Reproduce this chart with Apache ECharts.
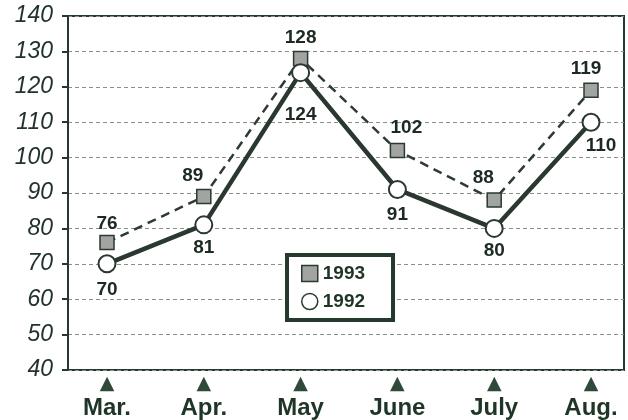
<!DOCTYPE html>
<html><head><meta charset="utf-8">
<script src="https://cdn.jsdelivr.net/npm/echarts@6/dist/echarts.min.js"></script>
<style>html,body{margin:0;padding:0;background:#fff}#c{width:628px;height:420px}</style>
</head><body><div id="c"></div>
<script>
const months = ['Mar.', 'Apr.', 'May', 'June', 'July', 'Aug.'];
const values1993 = [76, 89, 128, 102, 88, 119];
const values1992 = [70, 81, 124, 91, 80, 110];
const yTicks = [40, 50, 60, 70, 80, 90, 100, 110, 120, 130, 140];

// label offsets (style only)
const off1993 = [[0,-19],[-11,-21],[0,-21],[9,-23],[-11,-22],[-5,-22]];
const off1992 = [[0,26],[0,23],[0,42],[0,25],[0,22],[10,24]];

const dark = '#243a2c';
const chart = echarts.init(document.getElementById('c'), null, {renderer:'canvas'});
const lblStyle = {show:true, position:'inside', fontFamily:'Liberation Sans, Arial', fontSize:19, fontWeight:'bold', color:'#1c2a21'};

chart.setOption({
  animation:false,
  grid:[
    {left:68, right:4, top:16, bottom:50, show:true, borderColor:dark, borderWidth:2, backgroundColor:'transparent'},
    {left:107, right:37, top:16, bottom:50}
  ],
  xAxis:[
    {gridIndex:0, type:'category', data:months, show:false},
    {gridIndex:1, type:'category', data:months, boundaryGap:false,
     axisLine:{show:false}, axisTick:{show:false}, splitLine:{show:false},
     axisLabel:{margin:5, interval:0, formatter:v=>'{t|▲}\n{m|'+v+'}',
       rich:{t:{fontSize:19, lineHeight:18, color:'#2f4a3a', align:'center', fontFamily:'DejaVu Sans'},
             m:{fontSize:24, lineHeight:30, fontWeight:'bold', color:'#1f3526', fontFamily:'Liberation Sans, Arial', align:'center'}}}}
  ],
  yAxis:[
    {gridIndex:0, type:'value', min:yTicks[0], max:yTicks[yTicks.length-1], interval:10,
     axisLine:{show:true, lineStyle:{color:dark, width:2}},
     axisTick:{show:true, length:6, lineStyle:{color:dark, width:2}},
     axisLabel:{fontSize:23, fontStyle:'italic', color:'#22332a', fontFamily:'Liberation Sans, Arial', margin:15},
     splitLine:{show:true, lineStyle:{color:'#8a8f8a', type:[4,3], width:1}}},
    {gridIndex:1, type:'value', min:yTicks[0], max:yTicks[yTicks.length-1], interval:10, show:false, splitLine:{show:false}}
  ],
  legend:{
    orient:'vertical', left:287, top:255, padding:[9,28,9,14], itemGap:9,
    borderColor:dark, borderWidth:4, backgroundColor:'#fff',
    itemWidth:16, itemHeight:16,
    textStyle:{fontSize:19, fontWeight:'bold', color:'#1f3526', fontFamily:'Liberation Sans, Arial'},
    data:[
      {name:'1993', icon:'rect', itemStyle:{color:'#a2a4a2', borderColor:'#2a3a30', borderWidth:1.5}},
      {name:'1992', icon:'circle', itemStyle:{color:'#fff', borderColor:'#2a3a30', borderWidth:1.5}}
    ]
  },
  series:[
    {name:'1993', type:'line', xAxisIndex:1, yAxisIndex:1,
     data:values1993.map((v,i)=>({value:v, label:{offset:off1993[i]}})),
     symbol:'rect', symbolSize:14,
     lineStyle:{color:'#2e3b33', width:2.5, type:[9,6]},
     itemStyle:{color:'#a2a4a2', borderColor:'#2a3a30', borderWidth:1.5},
     label:lblStyle, z:2},
    {name:'1992', type:'line', xAxisIndex:1, yAxisIndex:1,
     data:values1992.map((v,i)=>({value:v, label:{offset:off1992[i]}})),
     symbol:'circle', symbolSize:17,
     lineStyle:{color:'#2b3830', width:4.5},
     itemStyle:{color:'#fff', borderColor:'#2b3830', borderWidth:2},
     label:lblStyle, z:3}
  ]
});
</script></body></html>
